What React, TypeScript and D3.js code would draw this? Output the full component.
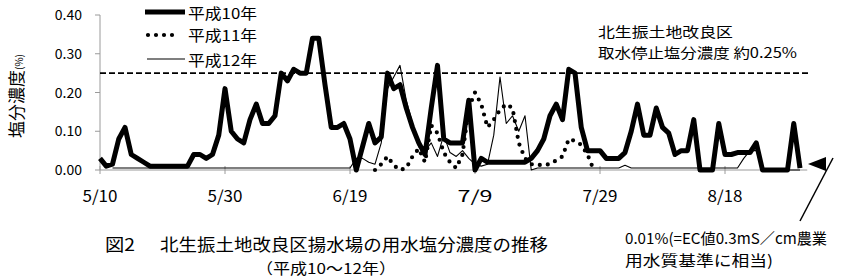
import React from "react";
import * as d3 from "d3";

// ---- data (塩分濃度 %) ----
const dayCount = 114; // 5/10 .. 8/31
const tickIndices = [0, 20, 40, 60, 80, 100];
const tickLabels = ["5/10", "5/30", "6/19", "7/9", "7/29", "8/18"];
const yTicks = [0, 0.1, 0.2, 0.3, 0.4];
const yTickLabels = ["0.00", "0.10", "0.20", "0.30", "0.40"];
const seriesNames = ["平成10年", "平成11年", "平成12年"];
const stopLevel = 0.25;

// 平成10年 starts 5/10
const h10Start = 0;
const h10 = [
  0.03, 0.01, 0.015, 0.08, 0.11, 0.04, 0.03, 0.02, 0.01, 0.01,
  0.01, 0.01, 0.01, 0.01, 0.01, 0.04, 0.04, 0.03, 0.04, 0.09,
  0.21, 0.10, 0.08, 0.07, 0.13, 0.17, 0.12, 0.12, 0.14, 0.25,
  0.23, 0.26, 0.25, 0.25, 0.34, 0.34, 0.22, 0.11, 0.11, 0.12,
  0.08, 0.0, 0.06, 0.12, 0.07, 0.085, 0.25, 0.21, 0.22, 0.16,
  0.11, 0.07, 0.04, 0.16, 0.27, 0.08, 0.07, 0.07, 0.07, 0.18,
  0.0, 0.03, 0.02, 0.02, 0.02, 0.02, 0.02, 0.02, 0.02, 0.03,
  0.05, 0.08, 0.14, 0.17, 0.13, 0.26, 0.25, 0.11, 0.05, 0.05,
  0.05, 0.03, 0.03, 0.03, 0.045, 0.10, 0.17, 0.09, 0.09, 0.16,
  0.11, 0.095, 0.04, 0.05, 0.05, 0.13, 0.0, 0.0, 0.0, 0.12,
  0.04, 0.04, 0.045, 0.045, 0.045, 0.07, 0.0, 0.0, 0.0, 0.0,
  0.0, 0.12, 0.005,
];

// 平成11年 starts 6/23 (index 44)
const h11Start = 44;
const h11 = [
  0.0, 0.015, 0.035, 0.012, 0.0, 0.005, 0.035, 0.055, 0.02, 0.115,
  0.095, 0.045, 0.02, 0.005, 0.04, 0.16, 0.20, 0.17, 0.11, 0.13,
  0.155, 0.17, 0.16, 0.07, 0.03, 0.015, 0.013, 0.013, 0.015, 0.025,
  0.035, 0.08, 0.075, 0.065, 0.04, 0.0,
];

// 平成12年 starts 5/12 (index 2)
const h12Start = 2;
const h12 = [
  0.005, 0.005, 0.005, 0.005, 0.005, 0.005, 0.005, 0.005,
  0.005, 0.005, 0.005, 0.005, 0.005, 0.005, 0.005, 0.005, 0.005, 0.005,
  0.005, 0.005, 0.005, 0.005, 0.005, 0.005, 0.005, 0.005, 0.005, 0.005,
  0.005, 0.005, 0.005, 0.005, 0.005, 0.005, 0.005, 0.005, 0.005, 0.005,
  0.005, 0.03, 0.03, 0.02, 0.015, 0.07, 0.21, 0.24, 0.27, 0.18,
  0.12, 0.06, 0.05, 0.07, 0.035, 0.09, 0.045, 0.035, 0.05, 0.03,
  0.015, 0.01, 0.015, 0.09, 0.24, 0.12, 0.14, 0.10, 0.14, 0.0,
  0.005, 0.005, 0.005, 0.005, 0.005, 0.005, 0.005, 0.005, 0.005, 0.005,
  0.005, 0.005, 0.005, 0.005, 0.012, 0.005, 0.005, 0.005, 0.005, 0.005,
  0.005, 0.005, 0.005, 0.005, 0.005, 0.005, 0.005, 0.005, 0.005, 0.005,
  0.005, 0.005, 0.005, 0.03, 0.05, 0.05, 0.0, 0.0, 0.0, 0.0,
  0.0, 0.0, 0.0,
];

const FONT = "'Noto Sans CJK JP', 'Noto Sans', sans-serif";

type Pt = { i: number; v: number };
const toPts = (start: number, vals: number[]): Pt[] =>
  vals.map((v, k) => ({ i: start + k, v }));

export default function App() {
  const x = d3.scaleLinear().domain([0, dayCount - 1]).range([100, 806.25]);
  const y = d3.scaleLinear().domain([0, 0.4]).range([170, 15]);
  const line = d3
    .line<Pt>()
    .x((d) => x(d.i))
    .y((d) => y(d.v));

  const p10 = line(toPts(h10Start, h10)) || "";
  const p11 = line(toPts(h11Start, h11)) || "";
  const p12 = line(toPts(h12Start, h12)) || "";

  const axisColor = "#9a9a9a";
  const x0 = x(0);
  const xEnd = x(dayCount - 1);

  return (
    <svg
      width={845}
      height={280}
      style={{ position: "absolute", left: 0, top: 0, background: "#fff" }}
      fontFamily={FONT}
    >
      <rect x={0} y={0} width={845} height={280} fill="#fff" />
      {/* axes */}
      <line x1={x0} x2={x0} y1={y(0.4)} y2={y(0)} stroke={axisColor} strokeWidth={1} />
      {yTicks.map((t, k) => (
        <g key={"yt" + k}>
          <line x1={x0 - 5} x2={x0} y1={y(t)} y2={y(t)} stroke={axisColor} strokeWidth={1} />
          <text x={82} y={y(t) + 5} fontSize={14} textAnchor="end" fill="#000">
            {yTickLabels[k]}
          </text>
        </g>
      ))}
      <line x1={x0} x2={xEnd + 1} y1={y(0)} y2={y(0)} stroke={axisColor} strokeWidth={1} />
      {tickIndices.map((ti, k) => (
        <g key={"xt" + k}>
          <line x1={x(ti)} x2={x(ti)} y1={y(0) - 4} y2={y(0) + 4} stroke={axisColor} strokeWidth={1} />
          <text
            x={x(ti)}
            y={202}
            fontSize={16}
            textAnchor="middle"
            textLength={35}
            lengthAdjust="spacingAndGlyphs"
          >
            {tickLabels[k]}
          </text>
        </g>
      ))}

      {/* y title */}
      <text transform="translate(23,138) rotate(-90)" fontSize={17}>
        塩分濃度<tspan fontSize={10}>(%)</tspan>
      </text>

      {/* stop level dashed line */}
      <line
        x1={x0}
        x2={808}
        y1={y(stopLevel)}
        y2={y(stopLevel)}
        stroke="#000"
        strokeWidth={1.8}
        strokeDasharray="6 3"
      />

      {/* series */}
      <path d={p12} fill="none" stroke="#000" strokeWidth={1.1} strokeLinejoin="round" />
      <path
        d={p11}
        fill="none"
        stroke="#000"
        strokeWidth={4.2}
        strokeDasharray="0 8"
        strokeLinecap="round"
      />
      <path d={p10} fill="none" stroke="#000" strokeWidth={5} strokeLinejoin="round" />

      {/* legend */}
      <line x1={145} x2={185} y1={12} y2={12} stroke="#000" strokeWidth={5} />
      <line
        x1={148}
        x2={180}
        y1={35}
        y2={35}
        stroke="#000"
        strokeWidth={4.2}
        strokeDasharray="0 8"
        strokeLinecap="round"
      />
      <line x1={147} x2={185} y1={59} y2={59} stroke="#000" strokeWidth={1.1} />
      {seriesNames.map((n, k) => (
        <text
          key={n}
          x={188}
          y={[19, 41, 66][k]}
          fontSize={15}
          textLength={69}
          lengthAdjust="spacingAndGlyphs"
        >
          {n}
        </text>
      ))}

      {/* annotation */}
      <text x={598} y={37} fontSize={14} textLength={135} lengthAdjust="spacingAndGlyphs">
        北生振土地改良区
      </text>
      <text x={598} y={58} fontSize={14} textLength={199} lengthAdjust="spacingAndGlyphs">
        取水停止塩分濃度 約0.25%
      </text>

      {/* arrow to 0.01 */}
      <polygon points="808,164 826,157 826,171" fill="#000" />
      <line x1={833} x2={800} y1={158} y2={221} stroke="#000" strokeWidth={1.5} />

      {/* caption */}
      <text x={105} y={251} fontSize={17} textLength={30} lengthAdjust="spacingAndGlyphs">
        図2
      </text>
      <text x={160} y={251} fontSize={17} textLength={388} lengthAdjust="spacingAndGlyphs">
        北生振土地改良区揚水場の用水塩分濃度の推移
      </text>
      <text x={256} y={274} fontSize={15} textLength={140} lengthAdjust="spacingAndGlyphs">
        （平成10～12年）
      </text>

      <text x={625} y={244} fontSize={15} textLength={202} lengthAdjust="spacingAndGlyphs">
        0.01%(=EC値0.3mS／cm農業
      </text>
      <text x={625} y={266} fontSize={15} textLength={148} lengthAdjust="spacingAndGlyphs">
        用水質基準に相当)
      </text>
    </svg>
  );
}
